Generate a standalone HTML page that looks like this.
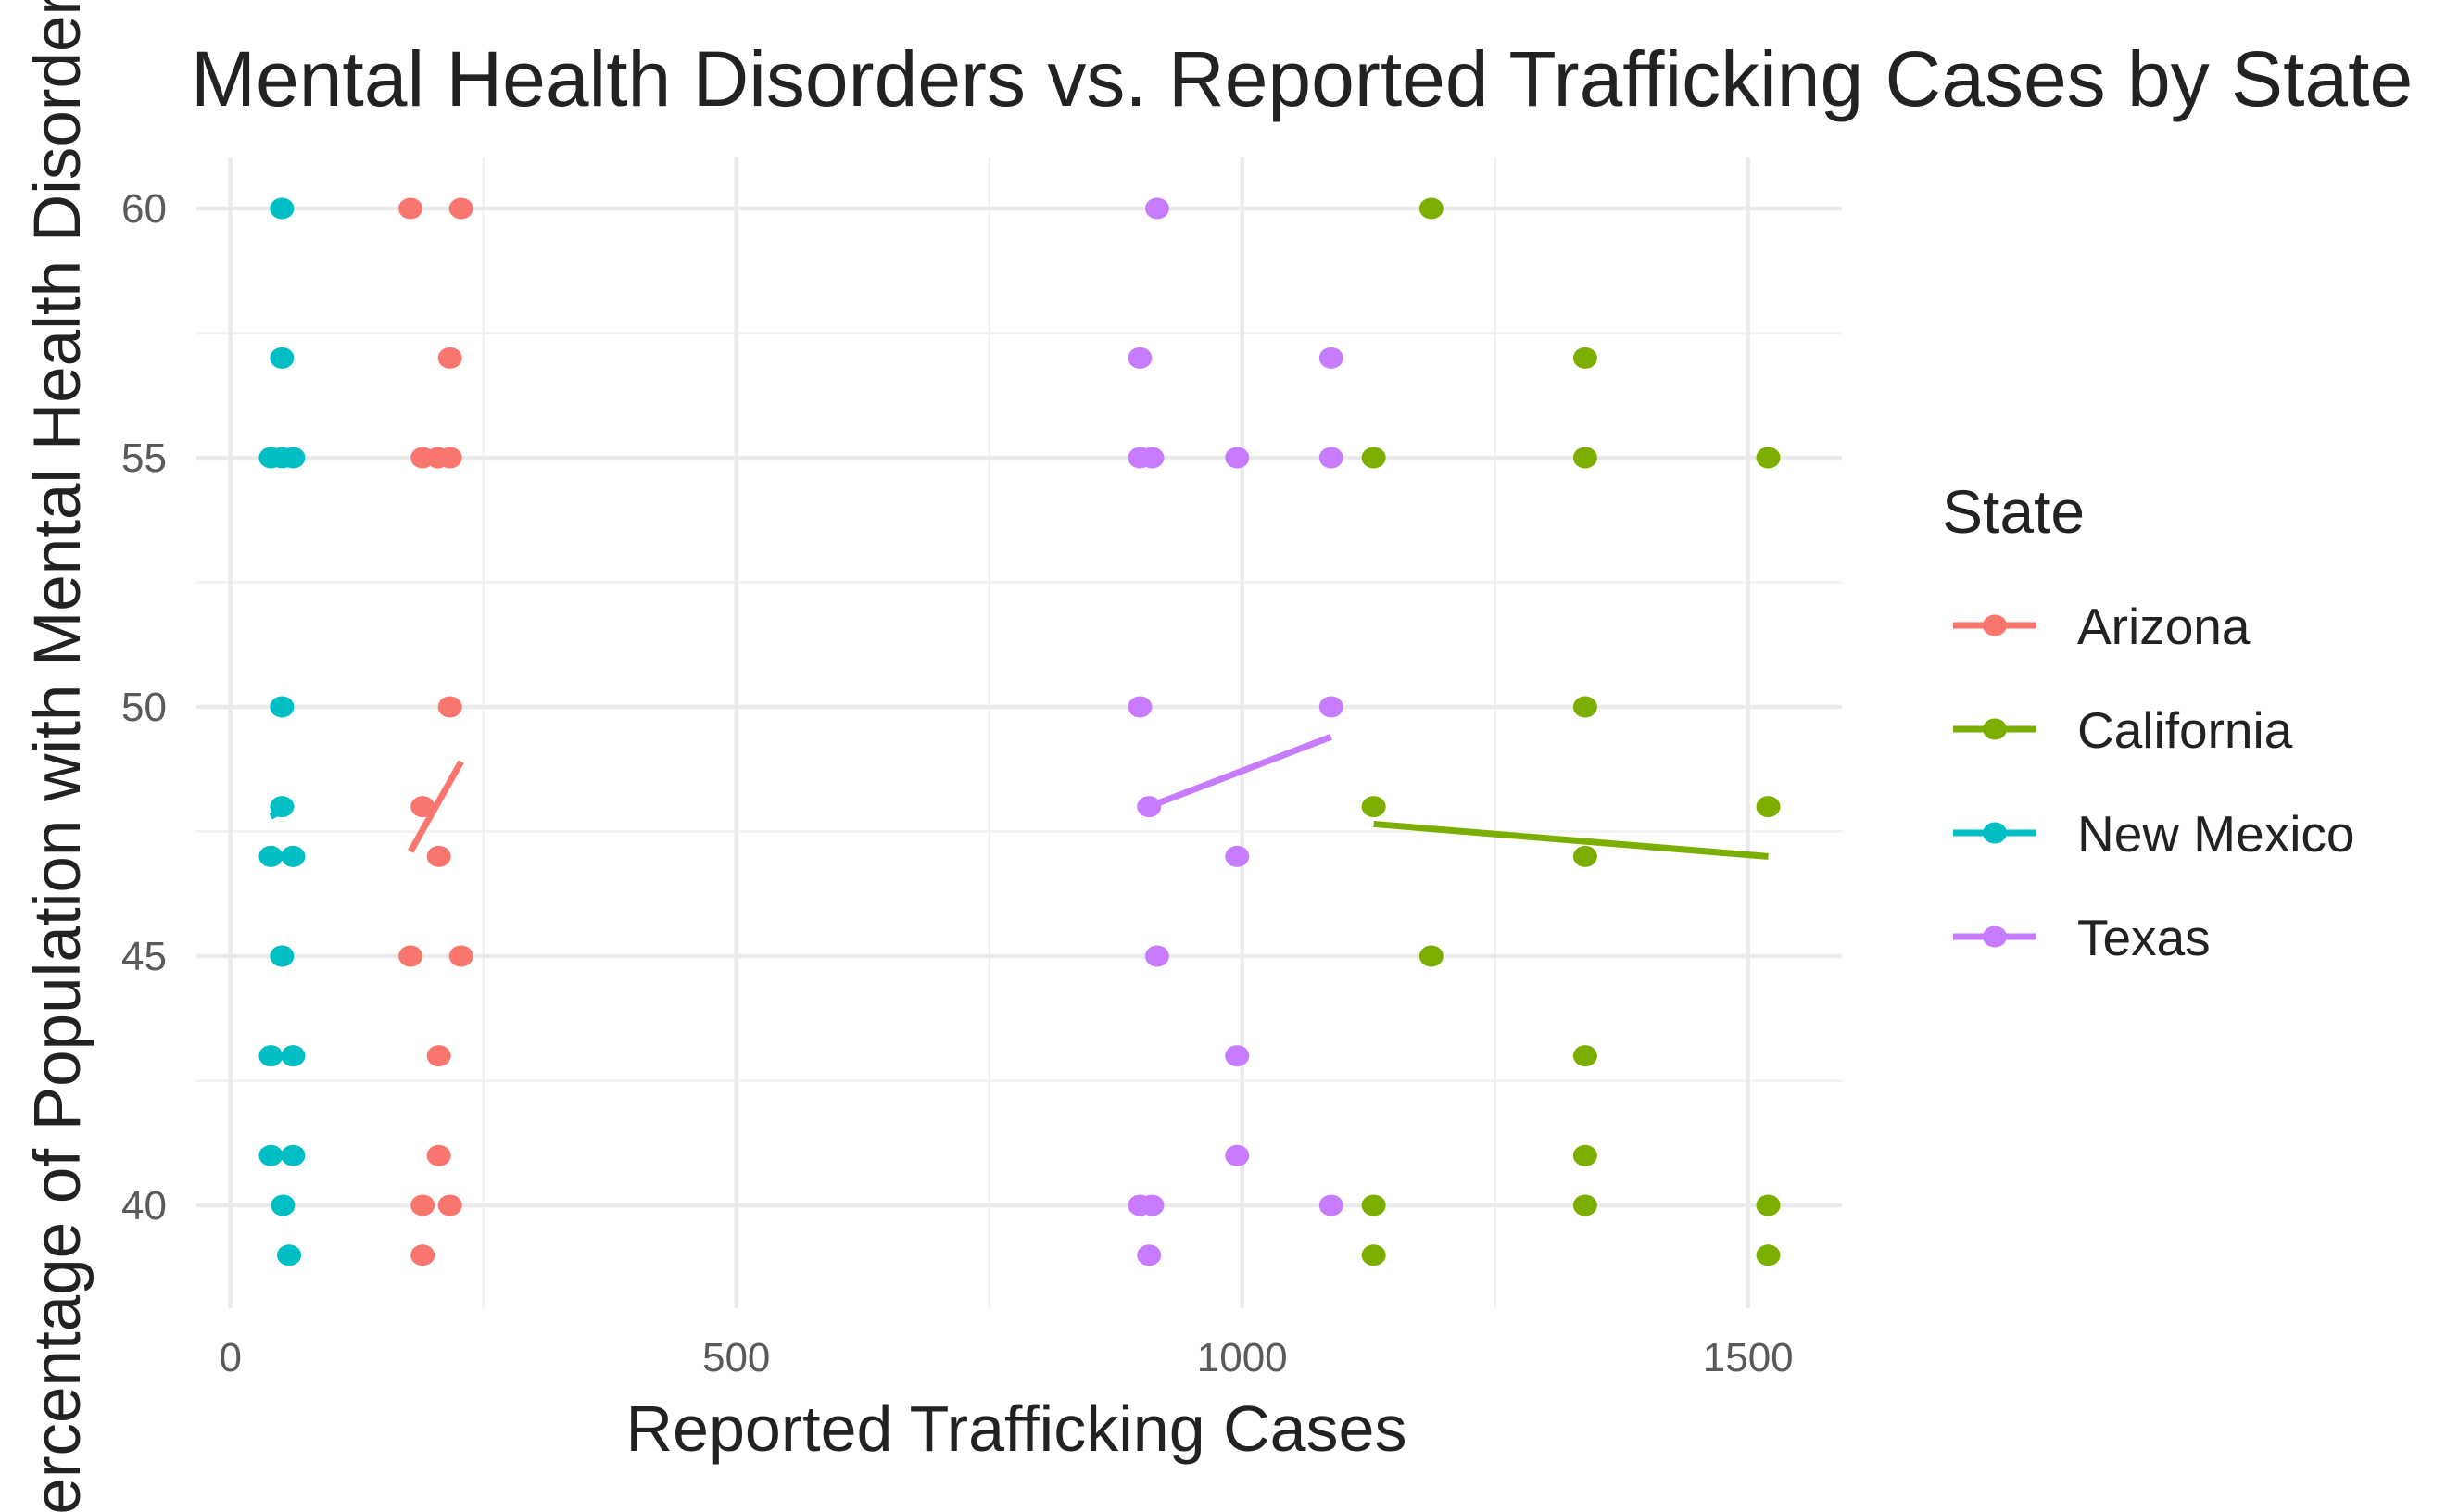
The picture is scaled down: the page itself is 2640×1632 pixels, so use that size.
<!DOCTYPE html>
<html><head><meta charset="utf-8"><style>
html,body{margin:0;padding:0;background:#fff;overflow:hidden}
svg{display:block;font-family:"Liberation Sans",sans-serif}
</style></head><body>
<svg id="chart" width="2640" height="1632" viewBox="0 0 2640 1632" xmlns="http://www.w3.org/2000/svg">
<g id="grid"></g>
<g id="axes"></g>
<g id="marks"></g>
<text x="206" y="114" font-size="84" fill="#222">Mental Health Disorders vs. Reported Trafficking Cases by State</text>
<text x="1097" y="1566" font-size="70" fill="#222" text-anchor="middle">Reported Trafficking Cases</text>
<text transform="translate(86,1682) rotate(-90)" font-size="71" fill="#222">Percentage of Population with Mental Health Disorders (%)</text>
<g id="legend"></g>
</svg>
<script>
const states = ["Arizona","California","New Mexico","Texas"];
const colors = ["#F8766D","#7CAE00","#00BFC4","#C77CFF"];
const arizonaX = [178,228,217,190,205,217,217,190,206,178,228,206,206,190,217,190];
const arizonaY = [60,60,57,55,55,55,50,48,47,45,45,43,41,40,40,39];
const californiaX = [1187,1339,1130,1339,1520,1339,1130,1520,1339,1187,1339,1339,1130,1339,1520,1130,1520];
const californiaY = [60,57,55,55,55,50,48,48,47,45,43,41,40,40,40,39,39];
const newMexicoX = [51,51,40,51,62,51,51,40,62,51,40,62,40,62,52,58];
const newMexicoY = [60,57,55,55,55,50,48,47,47,45,43,43,41,41,40,39];
const texasX = [916,899,1088,899,911,995,1088,899,1088,908,995,916,995,995,899,911,1088,908];
const texasY = [60,57,57,55,55,55,55,50,50,48,47,45,43,41,40,40,40,39];
// fitted trend line endpoints per state (Arizona, California, New Mexico, Texas)
const trendX0 = [178,1130,40,908];
const trendX1 = [228,1520,62,1088];
const trendY0 = [47.1,47.65,47.8,48.0];
const trendY1 = [48.9,47.0,48.05,49.4];
const xTicks = [0,500,1000,1500];
const yTicks = [40,45,50,55,60];

const NS="http://www.w3.org/2000/svg";
const X0=248.7, XS=1.092, Y0=225, YS=53.8;
const PX0=212, PX1=1988, PY0=170, PY1=1412;
const xs=v=>X0+v*XS, ys=v=>Y0+(60-v)*YS;
function mk(tag,parent,attrs){const e=document.createElementNS(NS,tag);for(const k in attrs)e.setAttribute(k,attrs[k]);parent.appendChild(e);return e;}
const grid=document.getElementById('grid'), axes=document.getElementById('axes'), marks=document.getElementById('marks'), legend=document.getElementById('legend');
for(let i=0;i<xTicks.length-1;i++){const v=(xTicks[i]+xTicks[i+1])/2;const l=mk('line',grid,{x1:xs(v),x2:xs(v),y1:PY0,y2:PY1,stroke:'#f2f2f2','stroke-width':2.5});
}
for(let i=0;i<yTicks.length-1;i++){const v=(yTicks[i]+yTicks[i+1])/2;const l=mk('line',grid,{x1:PX0,x2:PX1,y1:ys(v),y2:ys(v),stroke:'#f2f2f2','stroke-width':2.5});
}
xTicks.forEach(v=>{const l=mk('line',grid,{x1:xs(v),x2:xs(v),y1:PY0,y2:PY1,stroke:'#ebebeb','stroke-width':4.5});

const t=mk('text',axes,{x:xs(v),y:1480,'font-size':44,fill:'#5a5a5a','text-anchor':'middle'});t.textContent=v;
});
yTicks.forEach(v=>{const l=mk('line',grid,{x1:PX0,x2:PX1,y1:ys(v),y2:ys(v),stroke:'#ebebeb','stroke-width':4.5});

const t=mk('text',axes,{x:180,y:ys(v)+15,'font-size':44,fill:'#5a5a5a','text-anchor':'end'});t.textContent=v;
});
const series=[[arizonaX,arizonaY],[californiaX,californiaY],[newMexicoX,newMexicoY],[texasX,texasY]];
series.forEach((s,i)=>{
  const [X,Y]=s;
  X.forEach((x,j)=>{const c=mk('ellipse',marks,{cx:xs(x),cy:ys(Y[j]),rx:13,ry:11.5,fill:colors[i]});
    });
  const l=mk('line',marks,{x1:xs(trendX0[i]),y1:ys(trendY0[i]),x2:xs(trendX1[i]),y2:ys(trendY1[i]),stroke:colors[i],'stroke-width':7});
  
  const ly=675+i*112;
  const g=mk('g',legend,{});
  
  mk('line',g,{x1:2108,x2:2198,y1:ly,y2:ly,stroke:colors[i],'stroke-width':7});
  mk('ellipse',g,{cx:2153,cy:ly,rx:13,ry:11.5,fill:colors[i]});
  const t=mk('text',g,{x:2242,y:ly+20,'font-size':55,fill:'#222'});t.textContent=states[i];
});
const lt=mk('text',legend,{x:2096,y:575,'font-size':66,fill:'#222'});lt.textContent='State';

</script>
</body></html>
